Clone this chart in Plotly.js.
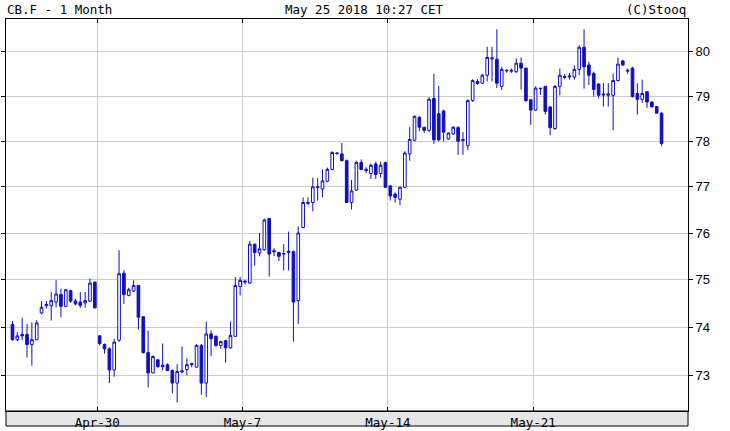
<!DOCTYPE html>
<html>
<head>
<meta charset="utf-8">
<script src="https://cdn.plot.ly/plotly-3.0.1.min.js"></script>
<style>
html,body{margin:0;padding:0;background:#fff;}
#chart{width:730px;height:431px;}
</style>
</head>
<body>
<div id="chart"></div>
<script>
// Hourly candles, CB.F, Apr 25 – May 25 2018
const opens = [
74.06,73.74,73.85,73.85,73.64,73.74,74.30,74.45,74.45,74.53,74.69,74.44,74.77,74.55,74.53,74.51,74.55,74.95,
73.82,73.64,73.55,73.11,73.73,75.14,74.67,74.76,74.88,74.22,73.47,73.05,73.32,73.21,73.22,73.10,72.84,73.07,
73.12,73.22,73.17,73.62,72.84,73.86,73.81,73.62,73.72,73.57,73.81,74.86,
74.95,74.93,75.76,75.57,75.64,76.31,75.62,75.58,75.56,75.58,75.60,74.56,76.12,76.64,76.66,76.98,76.95,77.12,
77.38,77.74,77.72,77.57,76.66,76.93,77.53,77.38,77.29,77.50,77.29,77.53,
77.02,76.84,76.73,76.99,77.72,78.02,78.53,78.31,78.24,78.95,78.61,78.67,78.05,78.16,78.30,78.04,77.90,78.90,
79.33,79.29,79.47,79.84,79.83,79.22,79.57,79.56,79.55,79.74,79.63,78.92,
78.69,79.18,79.22,78.76,78.28,79.22,79.42,79.43,79.43,79.60,80.10,79.70,79.51,79.27,79.05,79.02,79.02,79.35,
79.79,79.56,79.63,79.06,78.93,79.10,78.87,78.77,78.62
];
const highs = [
74.13,73.90,74.20,74.07,74.10,74.15,74.55,74.55,74.74,74.99,74.81,74.81,74.79,74.60,74.74,74.74,75.03,74.97,
73.84,73.66,73.58,73.76,75.63,75.21,74.83,74.99,74.88,74.22,73.93,73.41,73.34,73.66,73.25,73.12,73.23,73.60,
73.35,73.26,73.65,73.65,74.12,73.93,73.83,73.72,73.74,74.12,75.06,75.06,
74.99,75.83,75.77,76.00,76.31,76.32,75.68,75.60,75.76,76.03,75.62,76.14,76.77,76.77,77.20,77.19,77.38,77.42,
77.78,77.76,77.96,77.60,77.15,77.57,77.60,77.43,77.51,77.55,77.55,77.55,
77.04,76.88,77.00,77.78,78.31,78.57,78.55,78.31,78.98,79.50,79.23,78.70,78.20,78.33,78.33,78.20,78.93,79.38,
79.38,79.50,80.11,80.11,80.51,79.66,79.60,79.62,79.85,79.87,79.63,78.92,
79.22,79.18,79.22,78.78,79.25,79.62,79.50,79.52,79.69,80.15,80.51,79.77,79.55,79.29,79.29,79.29,79.51,79.87,
79.81,79.62,79.66,79.29,79.37,79.10,78.88,78.77,78.64
];
const lows = [
73.72,73.71,73.73,73.37,73.20,73.73,74.27,74.39,74.14,74.42,74.21,74.42,74.51,74.46,74.41,74.41,74.53,74.39,
73.62,73.45,72.84,72.97,73.69,74.49,74.65,74.74,73.95,73.45,72.75,73.04,73.16,73.10,73.09,72.63,72.44,73.04,
73.00,73.17,73.16,72.60,72.55,73.40,73.59,73.55,73.26,73.55,73.80,74.67,
74.90,74.92,75.30,75.50,75.62,75.07,75.50,75.40,75.20,75.20,73.70,74.07,76.10,76.60,76.47,76.70,76.77,77.10,
77.36,77.70,77.56,76.66,76.51,76.91,77.36,77.30,77.17,77.17,77.20,76.97,
76.70,76.66,76.60,76.97,77.57,78.00,78.22,78.18,78.20,77.94,78.00,78.00,78.03,78.14,77.70,77.70,77.80,78.87,
79.26,79.27,79.33,79.33,79.18,79.14,79.53,79.52,79.52,79.15,78.88,78.36,
78.67,79.03,78.59,78.13,78.25,79.02,79.38,79.37,79.37,79.47,79.17,79.25,78.99,78.95,78.77,78.77,78.24,79.33,
79.68,79.50,78.97,78.59,78.85,78.74,78.76,78.62,77.89
];
const closes = [
73.74,73.82,73.82,73.64,73.74,74.09,74.42,74.48,74.56,74.70,74.44,74.79,74.55,74.49,74.46,74.56,74.93,74.41,
73.66,73.55,73.11,73.69,75.13,74.69,74.79,74.88,74.21,73.47,73.05,73.39,73.18,73.18,73.10,72.84,73.08,73.09,
73.22,73.24,73.62,72.84,73.86,73.76,73.62,73.70,73.57,73.83,74.88,74.99,
74.97,75.76,75.58,75.66,76.28,75.55,75.60,75.50,75.55,75.61,74.53,76.00,76.66,76.66,77.00,77.00,77.13,77.38,
77.75,77.73,77.57,76.66,76.91,77.53,77.38,77.36,77.47,77.27,77.47,76.99,
76.80,76.77,76.99,77.74,78.04,78.55,78.31,78.24,78.93,78.03,78.03,78.20,78.18,78.31,78.00,78.02,78.90,79.35,
79.28,79.47,79.87,79.86,79.29,79.60,79.58,79.58,79.74,79.63,78.90,78.69,
79.18,79.17,78.66,78.30,79.22,79.47,79.44,79.45,79.60,80.10,79.66,79.47,79.15,79.02,79.03,79.05,79.35,79.72,
79.70,79.58,78.99,78.93,79.06,78.87,78.76,78.62,77.95
];
const tickLabels = ['Apr-30', 'May-7', 'May-14', 'May-21'];
const tickFirstCandle = [18, 48, 78, 108];
const priceTicks = [73, 74, 75, 76, 77, 78, 79, 80];
const titleLeft = 'CB.F - 1 Month';
const titleCenter = 'May 25 2018 10:27 CET';
const titleRight = '(C)Stooq';

const BLUE = '#1010bc';
const MONO = 'DejaVu Sans Mono, monospace';
const candleIdx = opens.map((_, i) => i);

const trace = {
  type: 'candlestick',
  x: candleIdx,
  open: opens, high: highs, low: lows, close: closes,
  increasing: {line: {color: BLUE, width: 1}, fillcolor: '#ffffff'},
  decreasing: {line: {color: BLUE, width: 1}, fillcolor: BLUE},
  whiskerwidth: 0,
  hoverinfo: 'skip',
  showlegend: false
};

const layout = {
  width: 730, height: 431,
  margin: {l: 6, r: 42, t: 19, b: 20, pad: 0},
  paper_bgcolor: '#ffffff', plot_bgcolor: '#ffffff',
  showlegend: false,
  boxgap: 0.22,
  xaxis: {
    type: 'linear',
    range: [-1.34, 139.46],
    tickvals: tickFirstCandle.map(i => i - 0.5),
    ticktext: tickLabels,
    ticks: 'inside', ticklen: 4, tickcolor: '#000', tickwidth: 1,
    showgrid: true, gridcolor: '#cccccc', gridwidth: 1,
    showline: true, linecolor: '#000', linewidth: 1, mirror: 'ticks',
    zeroline: false,
    rangeslider: {visible: false},
    tickfont: {family: MONO, size: 12.5, color: '#000'},
    fixedrange: true
  },
  yaxis: {
    type: 'log', side: 'right',
    range: [Math.log10(72.267), Math.log10(80.744)],
    tickvals: priceTicks,
    ticktext: priceTicks.map(String),
    ticks: 'outside', ticklen: 4, tickcolor: '#000', tickwidth: 1,
    showgrid: true, gridcolor: '#cccccc', gridwidth: 1,
    showline: true, linecolor: '#000', linewidth: 1, mirror: 'ticks',
    zeroline: false,
    tickfont: {family: 'Liberation Sans, Arial, sans-serif', size: 13, color: '#000'},
    fixedrange: true
  },
  shapes: [{
    type: 'rect', xref: 'paper', yref: 'paper',
    x0: 0, x1: 1, y0: -15 / 392, y1: 0,
    fillcolor: '#e6e6e6', line: {color: '#000', width: 1}, layer: 'below'
  }],
  annotations: [
    {text: titleLeft, xref: 'paper', yref: 'paper', x: -1 / 682, y: 1 + 9 / 392,
     xanchor: 'left', yanchor: 'middle', showarrow: false,
     font: {family: MONO, size: 12.5, color: '#000'}},
    {text: titleCenter, xref: 'paper', yref: 'paper', x: 358 / 682, y: 1 + 9 / 392,
     xanchor: 'center', yanchor: 'middle', showarrow: false,
     font: {family: MONO, size: 12.5, color: '#000'}},
    {text: titleRight, xref: 'paper', yref: 'paper', x: 1, y: 1 + 9 / 392,
     xanchor: 'right', yanchor: 'middle', showarrow: false,
     font: {family: MONO, size: 12.5, color: '#000'}}
  ]
};

Plotly.newPlot('chart', [trace], layout, {displayModeBar: false, staticPlot: true});
</script>
</body>
</html>
